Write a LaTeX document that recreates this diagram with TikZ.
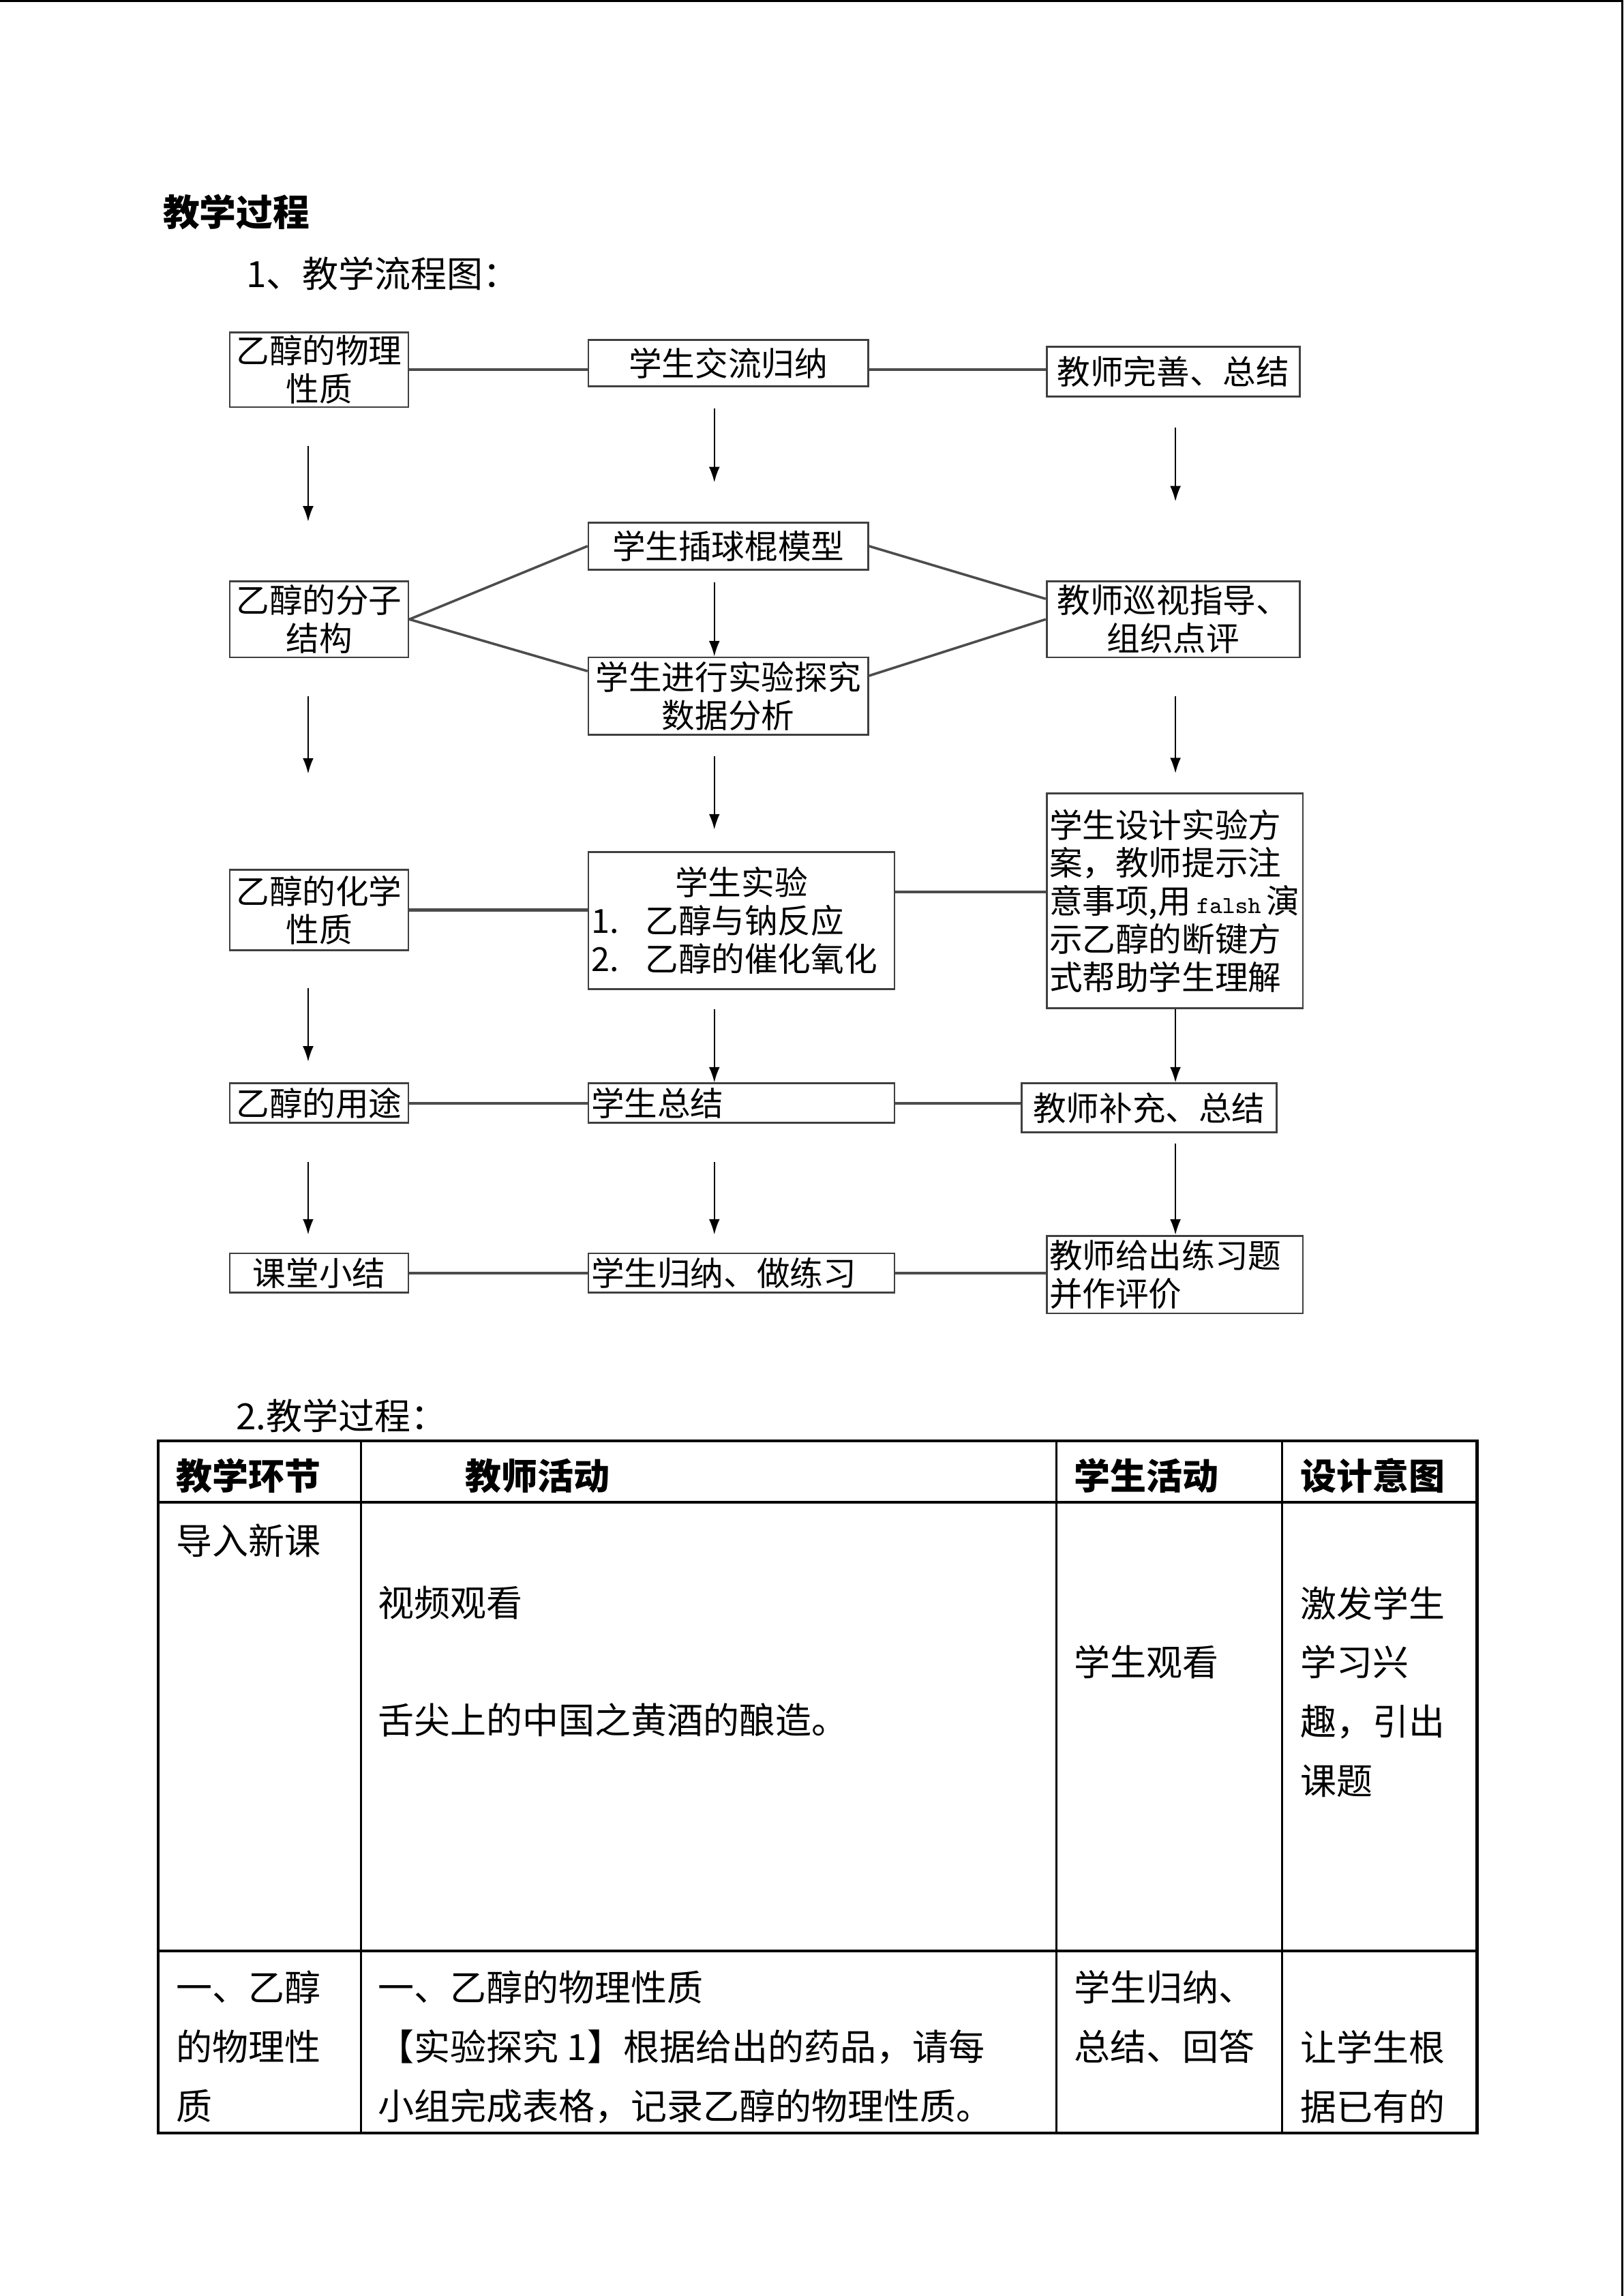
\documentclass[tikz,border=0pt]{standalone}
\usepackage{fontspec}
\setmainfont{Noto Sans CJK SC}
\usetikzlibrary{arrows.meta}

\begin{document}
\begin{tikzpicture}[x=0.018936cm, y=-0.018936cm,
	box/.style={draw=black!75, line width=0.7pt, inner sep=1pt, align=center, font=\fontsize{12.2}{14}\selectfont},
	lbox/.style={box, minimum width=2.31cm},
	mbox/.style={box, minimum width=3.617cm},
	wbox/.style={box, align=left, text width=3.888cm},
	rbox/.style={box, minimum width=3.276cm},
	link/.style={black!70, line width=1.1pt},
	arr/.style={line width=0.5pt, -{Latex[length=2mm,width=1.4mm]}},
	cell/.style={inner sep=0pt, align=left, font=\fontsize{13.3}{21.8}\selectfont},
	headcell/.style={cell, anchor=west, font=\fontsize{13.3}{21.8}\selectfont\bfseries},
	grid/.style={line width=1.1pt}]
	\useasboundingbox (0,0) rectangle (1109,1568.2);
	\draw[line width=0.8pt] (0,0.8) -- (1109,0.8);
	\draw[line width=0.7pt] (1108.2,0) -- (1108.2,1568.2);

	\node[cell, anchor=west, font=\fontsize{13.5}{16}\selectfont\bfseries] (title) at (111,145) {教学过程};
	\node[cell, anchor=west] (sub1) at (168,187) {1、教学流程图：};

	% left column
	\node[lbox, minimum height=0.966cm] (B1) at (218,252.5) {乙醇的物理\\性质};
	\node[lbox, minimum height=0.985cm] (B2) at (218,423) {乙醇的分子\\结构};
	\node[lbox, minimum height=1.041cm] (B3) at (218,621.5) {乙醇的化学\\性质};
	\node[lbox, minimum height=0.511cm] (B4) at (218,753.5) {乙醇的用途};
	\node[lbox, minimum height=0.511cm] (B5) at (218,869.5) {课堂小结};

	% middle column
	\node[mbox, minimum height=0.606cm] (M1) at (497.5,248) {学生交流归纳};
	\node[mbox, minimum height=0.606cm] (M2) at (497.5,373) {学生插球棍模型};
	\node[mbox, minimum height=1.004cm] (M3) at (497.5,475.5) {学生进行实验探究\\数据分析};
	\node[wbox, minimum height=1.771cm] (M4) at (506.5,628.75) {\makebox[\linewidth]{学生实验}\\1.\hspace{0.8em}乙醇与钠反应\\2.\hspace{0.8em}乙醇的催化氧化};
	\node[wbox, minimum height=0.511cm] (M5) at (506.5,753.5) {学生总结};
	\node[wbox, minimum height=0.511cm] (M6) at (506.5,869.5) {学生归纳、做练习};

	% right column
	\node[rbox, minimum height=0.644cm] (R1) at (801.5,254) {教师完善、总结};
	\node[rbox, minimum height=0.985cm] (R2) at (801.5,423) {教师巡视指导、\\组织点评};
	\node[box, align=left, text width=3.244cm, minimum height=2.774cm] (R3) at (802.5,615.25) {学生设计实验方\\案，教师提示注\\意事项,用\,{\ttfamily\fontsize{9}{14}\selectfont falsh}\,演\\示乙醇的断键方\\式帮助学生理解};
	\node[box, minimum width=3.295cm, minimum height=0.634cm] (R4) at (785,756.75) {教师补充、总结};
	\node[box, align=left, text width=3.244cm, minimum height=1.004cm] (R5) at (802.5,870.5) {教师给出练习题\\并作评价};

	% horizontal links
	\draw[link] (B1.east) -- (B1.east -| M1.west);
	\draw[link] (B1.east -| M1.east) -- (B1.east -| R1.west);
	\draw[link, line width=0.9pt] (B2.east) -- (M2.west);
	\draw[link, line width=0.9pt] (B2.east) -- ([yshift=-0.19cm]M3.north west);
	\draw[link, line width=0.9pt] (M2.east) -- ([yshift=0.265cm]R2.west);
	\draw[link, line width=0.9pt] ([yshift=-0.25cm]M3.north east) -- (R2.west);
	\draw[link] (B3.east) -- (B3.east -| M4.west);
	\draw[link] ([yshift=0.37cm]M4.east) -- ([yshift=0.37cm]M4.east -| R3.west);
	\draw[link] (B4.east) -- (B4.east -| M5.west);
	\draw[link] (B4.east -| M5.east) -- (B4.east -| R4.west);
	\draw[link] (B5.east) -- (B5.east -| M6.west);
	\draw[link] (B5.east -| M6.east) -- (B5.east -| R5.west);

	% arrows
	\coordinate (ca) at (210.5,0);
	\coordinate (cm) at (488,0);
	\coordinate (cr) at (803,0);
	\draw[arr, shorten <=0.49cm, shorten >=0.76cm] (B1.south -| ca) -- (B2.north -| ca);
	\draw[arr, shorten <=0.49cm, shorten >=1.23cm] (B2.south -| ca) -- (B3.north -| ca);
	\draw[arr, shorten <=0.48cm, shorten >=0.27cm] (B3.south -| ca) -- (B4.north -| ca);
	\draw[arr, shorten <=0.49cm, shorten >=0.23cm] (B4.south -| ca) -- (B5.north -| ca);
	\draw[arr, shorten <=0.27cm, shorten >=0.51cm] (M1.south -| cm) -- (M2.north -| cm);
	\draw[arr, shorten <=0.15cm] (M2.south -| cm) -- (M3.north -| cm);
	\draw[arr, shorten <=0.26cm, shorten >=0.28cm] (M3.south -| cm) -- (M4.north -| cm);
	\draw[arr, shorten <=0.25cm] (M4.south -| cm) -- (M5.north -| cm);
	\draw[arr, shorten <=0.49cm, shorten >=0.23cm] (M5.south -| cm) -- (M6.north -| cm);
	\draw[arr, shorten <=0.39cm, shorten >=1.02cm] (R1.south -| cr) -- (R2.north -| cr);
	\draw[arr, shorten <=0.49cm, shorten >=0.25cm] (R2.south -| cr) -- (R3.north -| cr);
	\draw[arr] (R3.south -| cr) -- (R4.north -| cr);
	\draw[arr, shorten <=0.13cm] (R4.south -| cr) -- (R5.north -| cr);

	% table
	\node[cell, anchor=west] (sub2) at (161,967) {2.教学过程：};
	\draw[grid] (108,984) rectangle (1009,1457);
	\draw[grid] (108,1026) -- (1009,1026);
	\draw[grid] (108,1332.5) -- (1009,1332.5);
	\foreach \x in {246.5,721.7,876}
		\draw[line width=0.8pt] (\x,984) -- (\x,1457);

	\node[headcell] (h1) at (120,1008) {教学环节};
	\node[headcell] (h2) at (317.6,1008) {教师活动};
	\node[headcell] (h3) at (733.6,1008) {学生活动};
	\node[headcell] (h4) at (888,1008) {设计意图};

	\node[cell, anchor=west] (c11) at (120,1052) {导入新课};
	\node[cell, anchor=west] (c12) at (258,1094.6) {视频观看};
	\node[cell, anchor=west] (c12b) at (258,1174.6) {舌尖上的中国之黄酒的酿造。};
	\node[cell, anchor=west] (c13) at (733.6,1135) {学生观看};
	\node[cell, anchor=north west] (c14) at (888,1083) {激发学生\\学习兴\\趣，引出\\课题};

	\node[cell, anchor=north west] (c21) at (120,1345.5) {一、乙醇\\的物理性\\质};
	\node[cell, anchor=north west] (c22) at (258,1345.5) {一、乙醇的物理性质\\【实验探究 1】根据给出的药品，请每\\小组完成表格，记录乙醇的物理性质。};
	\node[cell, anchor=north west] (c23) at (733.6,1345.5) {学生归纳、\\总结、回答};
	\node[cell, anchor=north west] (c24) at (888,1386.5) {让学生根\\据已有的};
\end{tikzpicture}
\end{document}
